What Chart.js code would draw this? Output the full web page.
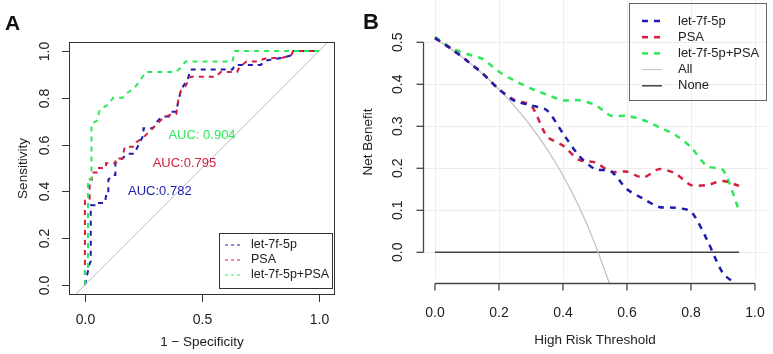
<!DOCTYPE html>
<html>
<head>
<meta charset="utf-8">
<title>ROC and decision curves</title>
<script src="https://cdn.jsdelivr.net/npm/chart.js"></script>
<style>
  body { margin: 0; background: #fff; }
  #wrap { position: relative; width: 773px; height: 354px; }
  #rocBox { position: absolute; left: 0; top: 0; }
  #dcaBox { position: absolute; left: 355px; top: 0; }
</style>
</head>
<body>
<div id="wrap">
  <div id="rocBox"><canvas id="rocChart" width="355" height="354"></canvas></div>
  <div id="dcaBox"><canvas id="dcaChart" width="418" height="354"></canvas></div>
</div>
<script>
const FONT = 'Liberation Sans, Arial, Helvetica, sans-serif';

const seriesNames = ['let-7f-5p', 'PSA', 'let-7f-5p+PSA'];
const seriesColors = ['#1c1cb0', '#d41f3f', '#2ee85a'];
const aucLabels = ['AUC:0.782', 'AUC:0.795', 'AUC: 0.904'];
const aucPos = [[0.32, 0.40], [0.425, 0.52], [0.50, 0.64]];

// ROC curves (x = 1 - specificity, y = sensitivity)
const rocMirX = [0, 0.02, 0.025, 0.025, 0.06, 0.06, 0.085, 0.09, 0.10, 0.10, 0.12, 0.13, 0.13, 0.16, 0.18, 0.21, 0.23, 0.25, 0.25, 0.29, 0.31, 0.33, 0.36, 0.37, 0.39, 0.40, 0.41, 0.42, 0.44, 0.45, 0.63, 0.64, 0.75, 0.78, 0.84, 0.88, 0.89, 1];
const rocMirY = [0, 0.09, 0.10, 0.34, 0.34, 0.35, 0.35, 0.38, 0.38, 0.45, 0.47, 0.47, 0.52, 0.54, 0.56, 0.56, 0.60, 0.64, 0.67, 0.67, 0.70, 0.72, 0.72, 0.74, 0.74, 0.79, 0.83, 0.85, 0.88, 0.92, 0.92, 0.94, 0.94, 0.96, 0.97, 0.98, 1.0, 1.0];
const rocPsaX = [0, 0, 0.02, 0.02, 0.03, 0.03, 0.06, 0.06, 0.09, 0.09, 0.13, 0.13, 0.16, 0.17, 0.21, 0.22, 0.25, 0.28, 0.30, 0.33, 0.37, 0.39, 0.40, 0.41, 0.43, 0.45, 0.56, 0.58, 0.65, 0.66, 0.69, 0.73, 0.78, 0.84, 0.88, 0.89, 1];
const rocPsaY = [0, 0.36, 0.36, 0.45, 0.45, 0.48, 0.48, 0.50, 0.50, 0.52, 0.52, 0.54, 0.54, 0.59, 0.59, 0.61, 0.63, 0.66, 0.68, 0.71, 0.73, 0.73, 0.80, 0.83, 0.85, 0.89, 0.89, 0.91, 0.91, 0.93, 0.955, 0.955, 0.97, 0.97, 0.98, 1.0, 1.0];
const rocComboX = [0, 0, 0.013, 0.013, 0.028, 0.028, 0.05, 0.064, 0.10, 0.12, 0.16, 0.18, 0.21, 0.24, 0.26, 0.39, 0.41, 0.43, 0.63, 0.64, 1];
const rocComboY = [0, 0.06, 0.06, 0.45, 0.45, 0.69, 0.70, 0.75, 0.77, 0.80, 0.80, 0.82, 0.84, 0.88, 0.91, 0.91, 0.93, 0.955, 0.955, 1.0, 1.0];
const rocXTicks = [0, 0.5, 1];
const rocYTicks = [0, 0.2, 0.4, 0.6, 0.8, 1];

// decision curves (net benefit by high risk threshold)
const thresholds = [0, 0.05, 0.1, 0.15, 0.2, 0.25, 0.3, 0.35, 0.4, 0.45, 0.5, 0.55, 0.6, 0.65, 0.7, 0.75, 0.8, 0.85, 0.9, 0.95];
const nbMir = [0.51, 0.485, 0.456, 0.425, 0.388, 0.36, 0.35, 0.338, 0.283, 0.23, 0.198, 0.193, 0.15, 0.128, 0.108, 0.106, 0.097, 0.03, -0.05, -0.08];
const nbPsa = [0.51, 0.485, 0.456, 0.425, 0.388, 0.362, 0.35, 0.276, 0.254, 0.22, 0.214, 0.192, 0.192, 0.178, 0.198, 0.188, 0.16, 0.16, 0.17, 0.158];
const nbCombo = [0.513, 0.487, 0.472, 0.46, 0.43, 0.408, 0.39, 0.375, 0.362, 0.362, 0.351, 0.325, 0.325, 0.315, 0.298, 0.28, 0.25, 0.205, 0.196, 0.1];
const allThresholds = [0, 0.05, 0.1, 0.15, 0.2, 0.25, 0.3, 0.35, 0.4, 0.45, 0.5, 0.55];
const nbAll = [0.51, 0.484, 0.456, 0.424, 0.388, 0.347, 0.30, 0.246, 0.183, 0.109, 0.02, -0.085];
const noneThresholds = [0, 0.95];
const nbNone = [0, 0];
const dcaXTicks = [0, 0.2, 0.4, 0.6, 0.8, 1];
const dcaYTicks = [0, 0.1, 0.2, 0.3, 0.4, 0.5];

function pairs(xs, ys) {
    return xs.map((x, i) => ({ x: x, y: ys[i] }));
}

function rotatedText(ctx, text, x, y) {
    ctx.save();
    ctx.translate(x, y);
    ctx.rotate(-Math.PI / 2);
    ctx.textAlign = 'center';
    ctx.textBaseline = 'middle';
    ctx.fillText(text, 0, 0);
    ctx.restore();
}

// R-style frame, axes and legend for the ROC panel
const rocDecor = {
    id: 'rocDecor',
    afterDraw(chart) {
        const ctx = chart.ctx;
        const a = chart.chartArea;
        const xs = chart.scales.x, ys = chart.scales.y;
        ctx.save();
        ctx.strokeStyle = '#333';
        ctx.lineWidth = 1;
        ctx.strokeRect(a.left + 0.5, a.top + 0.5, a.right - a.left - 1, a.bottom - a.top - 1);

        ctx.fillStyle = '#222';
        ctx.font = '14px ' + FONT;
        ctx.textAlign = 'center';
        ctx.textBaseline = 'middle';
        rocXTicks.forEach(v => {
            const px = Math.round(xs.getPixelForValue(v)) + 0.5;
            ctx.beginPath();
            ctx.moveTo(px, a.bottom);
            ctx.lineTo(px, a.bottom + 7);
            ctx.stroke();
            ctx.fillText(v.toFixed(1), px, a.bottom + 25);
        });
        rocYTicks.forEach(v => {
            const py = Math.round(ys.getPixelForValue(v)) + 0.5;
            ctx.beginPath();
            ctx.moveTo(a.left, py);
            ctx.lineTo(a.left - 7, py);
            ctx.stroke();
            rotatedText(ctx, v.toFixed(1), 45, py);
        });
        ctx.font = '13.5px ' + FONT;
        ctx.fillText('1 \u2212 Specificity', (a.left + a.right) / 2, 342);
        rotatedText(ctx, 'Sensitivity', 23, (a.top + a.bottom) / 2);

        ctx.font = '13px ' + FONT;
        aucLabels.forEach((t, i) => {
            ctx.fillStyle = seriesColors[i];
            ctx.fillText(t, xs.getPixelForValue(aucPos[i][0]), ys.getPixelForValue(aucPos[i][1]));
        });

        // legend
        const lx = 219, ly = 233, lw = 113, lh = 55;
        ctx.strokeStyle = '#333';
        ctx.strokeRect(lx + 0.5, ly + 0.5, lw, lh);
        ctx.font = '12.5px ' + FONT;
        ctx.textAlign = 'left';
        seriesNames.forEach((n, i) => {
            const y = ly + 12 + i * 15;
            ctx.strokeStyle = seriesColors[i];
            ctx.lineWidth = 1;
            ctx.setLineDash([3, 3]);
            ctx.beginPath();
            ctx.moveTo(lx + 6, y);
            ctx.lineTo(lx + 22, y);
            ctx.stroke();
            ctx.setLineDash([]);
            ctx.fillStyle = '#222';
            ctx.fillText(n, lx + 32, y);
        });

        ctx.fillStyle = '#111';
        ctx.font = 'bold 21px ' + FONT;
        ctx.fillText('A', 5, 24);
        ctx.restore();
    }
};

// grid, axes and legend for the decision curve panel
const dcaDecor = {
    id: 'dcaDecor',
    beforeDatasetsDraw(chart) {
        const ctx = chart.ctx;
        const a = chart.chartArea;
        const xs = chart.scales.x, ys = chart.scales.y;
        ctx.save();
        ctx.strokeStyle = '#ececec';
        ctx.lineWidth = 1;
        dcaXTicks.forEach(v => {
            const px = Math.round(xs.getPixelForValue(v)) + 0.5;
            ctx.beginPath();
            ctx.moveTo(px, a.top);
            ctx.lineTo(px, a.bottom - 6);
            ctx.stroke();
        });
        dcaYTicks.forEach(v => {
            const py = Math.round(ys.getPixelForValue(v)) + 0.5;
            ctx.beginPath();
            ctx.moveTo(a.left, py);
            ctx.lineTo(a.right, py);
            ctx.stroke();
        });
        ctx.restore();
    },
    afterDraw(chart) {
        const ctx = chart.ctx;
        const a = chart.chartArea;
        const xs = chart.scales.x, ys = chart.scales.y;
        ctx.save();
        ctx.strokeStyle = '#444';
        ctx.lineWidth = 1.3;
        ctx.fillStyle = '#222';
        ctx.font = '14px ' + FONT;
        ctx.textAlign = 'center';
        ctx.textBaseline = 'middle';

        const x0 = xs.getPixelForValue(0), x1 = xs.getPixelForValue(1);
        const bx = Math.round(a.bottom) - 0.5;
        ctx.beginPath();
        ctx.moveTo(x0, bx);
        ctx.lineTo(x1, bx);
        ctx.stroke();
        dcaXTicks.forEach(v => {
            const px = xs.getPixelForValue(v);
            ctx.beginPath();
            ctx.moveTo(px, bx);
            ctx.lineTo(px, bx + 7);
            ctx.stroke();
            ctx.fillText(v.toFixed(1), px, 313);
        });

        const lxAxis = Math.round(a.left) + 0.5;
        ctx.beginPath();
        ctx.moveTo(lxAxis, ys.getPixelForValue(0));
        ctx.lineTo(lxAxis, ys.getPixelForValue(0.5));
        ctx.stroke();
        dcaYTicks.forEach(v => {
            const py = ys.getPixelForValue(v);
            ctx.beginPath();
            ctx.moveTo(lxAxis, py);
            ctx.lineTo(lxAxis - 7, py);
            ctx.stroke();
            rotatedText(ctx, v.toFixed(1), 43, py);
        });
        ctx.font = '13.5px ' + FONT;
        ctx.fillText('High Risk Threshold', (x0 + x1) / 2, 340);
        rotatedText(ctx, 'Net Benefit', 13, (a.top + a.bottom) / 2);

        // legend
        const lx = 274, ly = 3, lw = 138, lh = 97;
        ctx.font = '13px ' + FONT;
        ctx.lineWidth = 1;
        ctx.strokeStyle = '#666';
        ctx.strokeRect(lx + 0.5, ly + 0.5, lw - 1, lh);
        const names = seriesNames.concat(['All', 'None']);
        const cols = seriesColors.concat(['#bdbdbd', '#444']);
        ctx.textAlign = 'left';
        names.forEach((n, i) => {
            const y = ly + 18 + i * 16.2;
            ctx.strokeStyle = cols[i];
            ctx.lineWidth = i < 3 ? 2.5 : (i === 3 ? 1 : 1.5);
            ctx.setLineDash(i < 3 ? [6, 6] : []);
            ctx.beginPath();
            ctx.moveTo(lx + 13, y);
            ctx.lineTo(lx + 33, y);
            ctx.stroke();
            ctx.setLineDash([]);
            ctx.fillStyle = '#222';
            ctx.fillText(n, lx + 49, y);
        });

        ctx.fillStyle = '#111';
        ctx.font = 'bold 22px ' + FONT;
        ctx.fillText('B', 8, 23);
        ctx.restore();
    }
};

function lineSet(data, color, width, dash, order) {
    return {
        data: data,
        showLine: true,
        borderColor: color,
        borderWidth: width,
        borderDash: dash,
        pointRadius: 0,
        fill: false,
        order: order
    };
}

function baseOptions(xMin, xMax, yMin, yMax, pad) {
    return {
        responsive: false,
        animation: false,
        devicePixelRatio: 1,
        events: [],
        layout: { padding: pad },
        plugins: { legend: { display: false }, tooltip: { enabled: false } },
        scales: {
            x: { type: 'linear', min: xMin, max: xMax, display: false },
            y: { type: 'linear', min: yMin, max: yMax, display: false }
        }
    };
}

new Chart(document.getElementById('rocChart').getContext('2d'), {
    type: 'scatter',
    data: {
        datasets: [
            lineSet([{ x: -0.2, y: -0.2 }, { x: 1.2, y: 1.2 }], '#bbbbbb', 1, [], 5),
            lineSet(pairs(rocMirX, rocMirY), seriesColors[0], 2, [5, 5], 3),
            lineSet(pairs(rocPsaX, rocPsaY), seriesColors[1], 2, [5, 5], 2),
            lineSet(pairs(rocComboX, rocComboY), seriesColors[2], 2, [5, 5], 1)
        ]
    },
    options: baseOptions(-0.068, 1.068, -0.043, 1.038, { left: 69, right: 20, top: 42, bottom: 59 }),
    plugins: [rocDecor]
});

const dcaOpts = baseOptions(-0.0375, 1.0375, -0.0755, 0.6007, { left: 68, right: 6, top: 0, bottom: 70 });
dcaOpts.elements = { line: { tension: 0.25 } };

new Chart(document.getElementById('dcaChart').getContext('2d'), {
    type: 'scatter',
    data: {
        datasets: [
            lineSet(pairs(noneThresholds, nbNone), '#444444', 1.5, [], 5),
            lineSet(pairs(allThresholds, nbAll), '#bdbdbd', 1.2, [], 4),
            lineSet(pairs(thresholds, nbMir), seriesColors[0], 2.5, [6, 6], 1),
            lineSet(pairs(thresholds, nbPsa), seriesColors[1], 2.5, [6, 6], 2),
            lineSet(pairs(thresholds, nbCombo), seriesColors[2], 2.5, [6, 6], 3)
        ]
    },
    options: dcaOpts,
    plugins: [dcaDecor]
});
</script>
</body>
</html>
